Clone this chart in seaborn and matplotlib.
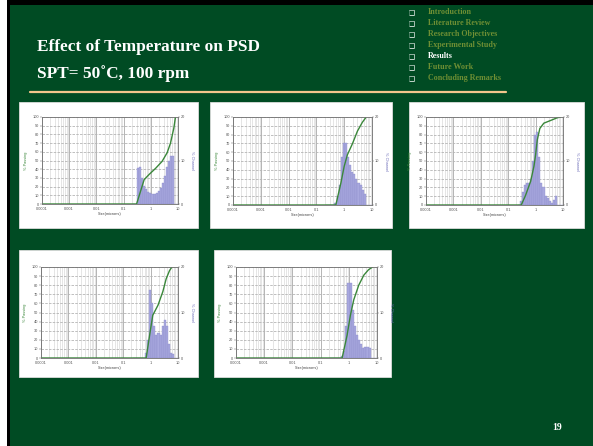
import numpy as np
import pandas as pd
import matplotlib
matplotlib.use("Agg")
import matplotlib.pyplot as plt
import seaborn as sns
from matplotlib.patches import Rectangle

# ---------------- data ----------------
sizes = [0.243, 0.289, 0.344, 0.409, 0.486, 0.578, 0.688, 0.818, 0.972, 1.156, 1.375,
         1.635, 1.945, 2.312, 2.750, 3.270, 3.890, 4.625, 5.500, 6.540, 7.780, 9.250]

p1_channel = [0, 0, 8.2, 8.4, 6, 4.2, 3.4, 2.8, 2.5, 2.4, 2.4, 2.6, 3, 3.6, 4.8, 6.5, 8.5, 10, 11, 11, 0, 0]
p2_channel = [0, 0, 0, 0, 0.5, 2, 4.5, 11, 14.2, 14, 11, 9, 7.5, 7, 6, 5, 4.5, 3.5, 2.5, 0, 0, 0]
p3_channel = [0, 1, 3, 4.5, 5, 5, 6, 10, 16, 16.5, 11, 5, 4, 2, 1.5, 0.8, 0.5, 1.2, 2, 0, 0, 0]
p4_channel = [0, 0, 0, 0, 0, 0, 1, 4, 15, 12, 7, 5, 5.5, 5, 7, 8.3, 7, 3, 1, 0.8, 0, 0]
p5_channel = [0, 0, 0, 0, 0, 0.5, 1.5, 7, 16.5, 16.5, 10.5, 7, 5, 4, 3, 2.2, 2.5, 2.5, 2.2, 0, 0, 0]

p1_pass_size = [0.0001, 0.30, 0.57, 0.87, 1.5, 2.6, 4.0, 5.3, 7.0, 8.0]
p1_pass = [0, 0, 28, 34, 41, 49, 59, 70, 87, 99]
p2_pass_size = [0.0001, 0.5, 0.76, 1.0, 1.3, 2.0, 3.0, 4.5, 5.9]
p2_pass = [0, 0, 25, 44, 57, 70, 84, 94, 99]
p3_pass_size = [0.0001, 0.3, 0.43, 0.66, 0.87, 1.0, 1.15, 1.43, 2.0, 3.5, 6.0, 8.0]
p3_pass = [0, 0, 11, 27, 44, 57, 74, 87, 93, 96, 99, 100]
p4_pass_size = [0.0001, 0.69, 0.92, 1.2, 1.86, 2.8, 3.7, 4.9, 6.0]
p4_pass = [0, 0, 25, 47, 58, 73, 87, 96, 100]
p5_pass_size = [0.0001, 0.58, 0.87, 1.14, 1.5, 2.25, 3.4, 5.0, 7.0]
p5_pass = [0, 0, 25, 47, 64, 80, 91, 97, 100]

x_ticks = [0.0001, 0.001, 0.01, 0.1, 1, 10]
x_tick_labels = ["0.0001", "0.001", "0.01", "0.1", "1", "10"]
left_ticks = [0, 10, 20, 30, 40, 50, 60, 70, 80, 90, 100]
right_ticks = [0, 10, 20]

title_lines = ["Effect of Temperature on PSD", "SPT= 50˚C, 100 rpm"]
menu_items = ["Introduction", "Literature Review", "Research Objectives",
              "Experimental Study", "Results", "Future Work", "Concluding Remarks"]
active_item = "Results"
page_number = "19"

# ---------------- style ----------------
W, H = 593, 446
BG = "#004b23"
MENU = "#6f8f34"
GREEN_LINE = "#3a873a"
BAR = "#a8a8de"
BAR_EDGE = "#8686c8"

sns.set_theme(style="white")
plt.rcParams["font.family"] = ["Liberation Sans", "DejaVu Sans"]

fig = plt.figure(figsize=(W / 100, H / 100), dpi=100, facecolor=BG)


def fx(x):
    return x / W


def fy(y):
    return 1 - y / H


def rect_px(x0, y0, x1, y1, **kw):
    r = Rectangle((fx(x0), fy(y1)), fx(x1) - fx(x0), fy(y0) - fy(y1),
                  transform=fig.transFigure, zorder=-5, **kw)
    fig.patches.append(r)


# slide frame
rect_px(0, 0, 7, H, facecolor="white", edgecolor="none")
rect_px(7, 0, 10, H, facecolor="black", edgecolor="none")
rect_px(7, 0, W, 5, facecolor="black", edgecolor="none")

serif = ["Liberation Serif", "DejaVu Serif"]
for i, t in enumerate(title_lines):
    fig.text(fx(37), fy(47 + i * 27), t, color="white", fontsize=12.4, fontweight="bold",
             family=serif, va="center", ha="left")

for i, item in enumerate(menu_items):
    yy = fy(12.5 + i * 10.9)
    col = "white" if item == active_item else MENU
    fig.text(fx(409), yy, "❑", color="white", fontsize=5, family=["DejaVu Sans"],
             va="center", ha="left")
    fig.text(fx(428), yy, item, color=col, fontsize=5.8, fontweight="bold",
             family=serif, va="center", ha="left")

fig.add_artist(plt.Line2D([fx(30), fx(506)], [fy(91.5), fy(91.5)], color="#f3c68c",
                          lw=1.6, transform=fig.transFigure))

fig.text(fx(557), fy(428), page_number, color="white", fontsize=7, fontweight="bold",
         family=serif, va="center", ha="center")

# ---------------- panels ----------------
panels = [
    dict(box=(19, 102, 198, 228), plot=(42, 117, 178, 204), ch=p1_channel, ls=p1_pass_size, lp=p1_pass),
    dict(box=(210, 102, 392, 228), plot=(233, 117, 372, 205), ch=p2_channel, ls=p2_pass_size, lp=p2_pass),
    dict(box=(409, 102, 584, 228), plot=(426, 117, 563, 205), ch=p3_channel, ls=p3_pass_size, lp=p3_pass),
    dict(box=(19, 250, 198, 377), plot=(41, 267, 178, 358), ch=p4_channel, ls=p4_pass_size, lp=p4_pass),
    dict(box=(214, 250, 391, 377), plot=(236, 267, 377, 358), ch=p5_channel, ls=p5_pass_size, lp=p5_pass),
]

log_sizes = np.log10(sizes)
half = (log_sizes[1] - log_sizes[0]) / 2
edges_log = np.concatenate([[log_sizes[0] - half], (log_sizes[:-1] + log_sizes[1:]) / 2,
                            [log_sizes[-1] + half]]).tolist()

FS = 2.8
for p in panels:
    bx0, by0, bx1, by1 = p["box"]
    rect_px(bx0, by0, bx1, by1, facecolor="white", edgecolor="#dcdcdc", lw=0.6)
    px0, py0, px1, py1 = p["plot"]
    ax = fig.add_axes([fx(px0), fy(py1), fx(px1) - fx(px0), fy(py0) - fy(py1)])
    ax2 = ax.twinx()
    ax.set_zorder(ax2.get_zorder() + 1)
    ax.patch.set_visible(False)
    ax2.set_facecolor("white")
    ax2.set_axisbelow(True)

    hist_df = pd.DataFrame({"size": sizes, "channel": p["ch"]})
    line_df = pd.DataFrame({"size": p["ls"], "passing": p["lp"]})

    sns.histplot(data=hist_df, x="size", weights="channel", bins=edges_log, log_scale=True,
                 ax=ax2, color=BAR, edgecolor=BAR_EDGE, linewidth=0.25, alpha=1.0)
    sns.lineplot(data=line_df, x="size", y="passing", ax=ax, color=GREEN_LINE, lw=1.0)

    ax.set_xscale("log")
    ax.set_xlim(0.0001, 10)
    ax.set_ylim(0, 100)
    ax2.set_ylim(0, 20)
    ax.set_xticks(x_ticks)
    ax.set_xticklabels(x_tick_labels)
    ax.set_yticks(left_ticks)
    ax2.set_yticks(right_ticks)
    ax2.set_yticks(np.arange(0, 21, 2), minor=True)

    # make the twin's x axis available for vertical grid lines (no ticks/labels)
    ax2.xaxis.set_visible(True)
    ax2.tick_params(axis="x", which="both", bottom=False, top=False,
                    labelbottom=False, labeltop=False)
    ax2.grid(True, which="both", axis="y", color="#b4b4b4", lw=0.6, ls=(0, (3, 1.5)))
    ax2.grid(True, which="major", axis="x", color="#a8a8a8", lw=0.6)
    ax2.grid(True, which="minor", axis="x", color="#d6d6d6", lw=0.45)
    ax.grid(False)

    for a in (ax, ax2):
        a.tick_params(axis="y", which="both", labelsize=FS, length=1.2, width=0.3,
                      pad=1, colors="#555555")
        for s in a.spines.values():
            s.set_color("#777777")
            s.set_linewidth(0.5)
    ax.tick_params(axis="x", which="both", labelsize=FS, length=1.2, width=0.3,
                   pad=1, colors="#555555")
    ax.tick_params(axis="x", which="minor", length=0.8)
    ax2.tick_params(axis="y", which="minor", length=0.8)

    ax.set_xlabel("Size(microns)", fontsize=FS, color="#444444", labelpad=1)
    ax.set_ylabel("% Passing", fontsize=FS, color=GREEN_LINE, labelpad=3)
    ax2.set_ylabel("% Channel", fontsize=FS, color="#6a6ab8", labelpad=3, rotation=270,
                   va="bottom")
    ax2.set_xlabel("")

fig.savefig("out.png", dpi=100, facecolor=BG)
